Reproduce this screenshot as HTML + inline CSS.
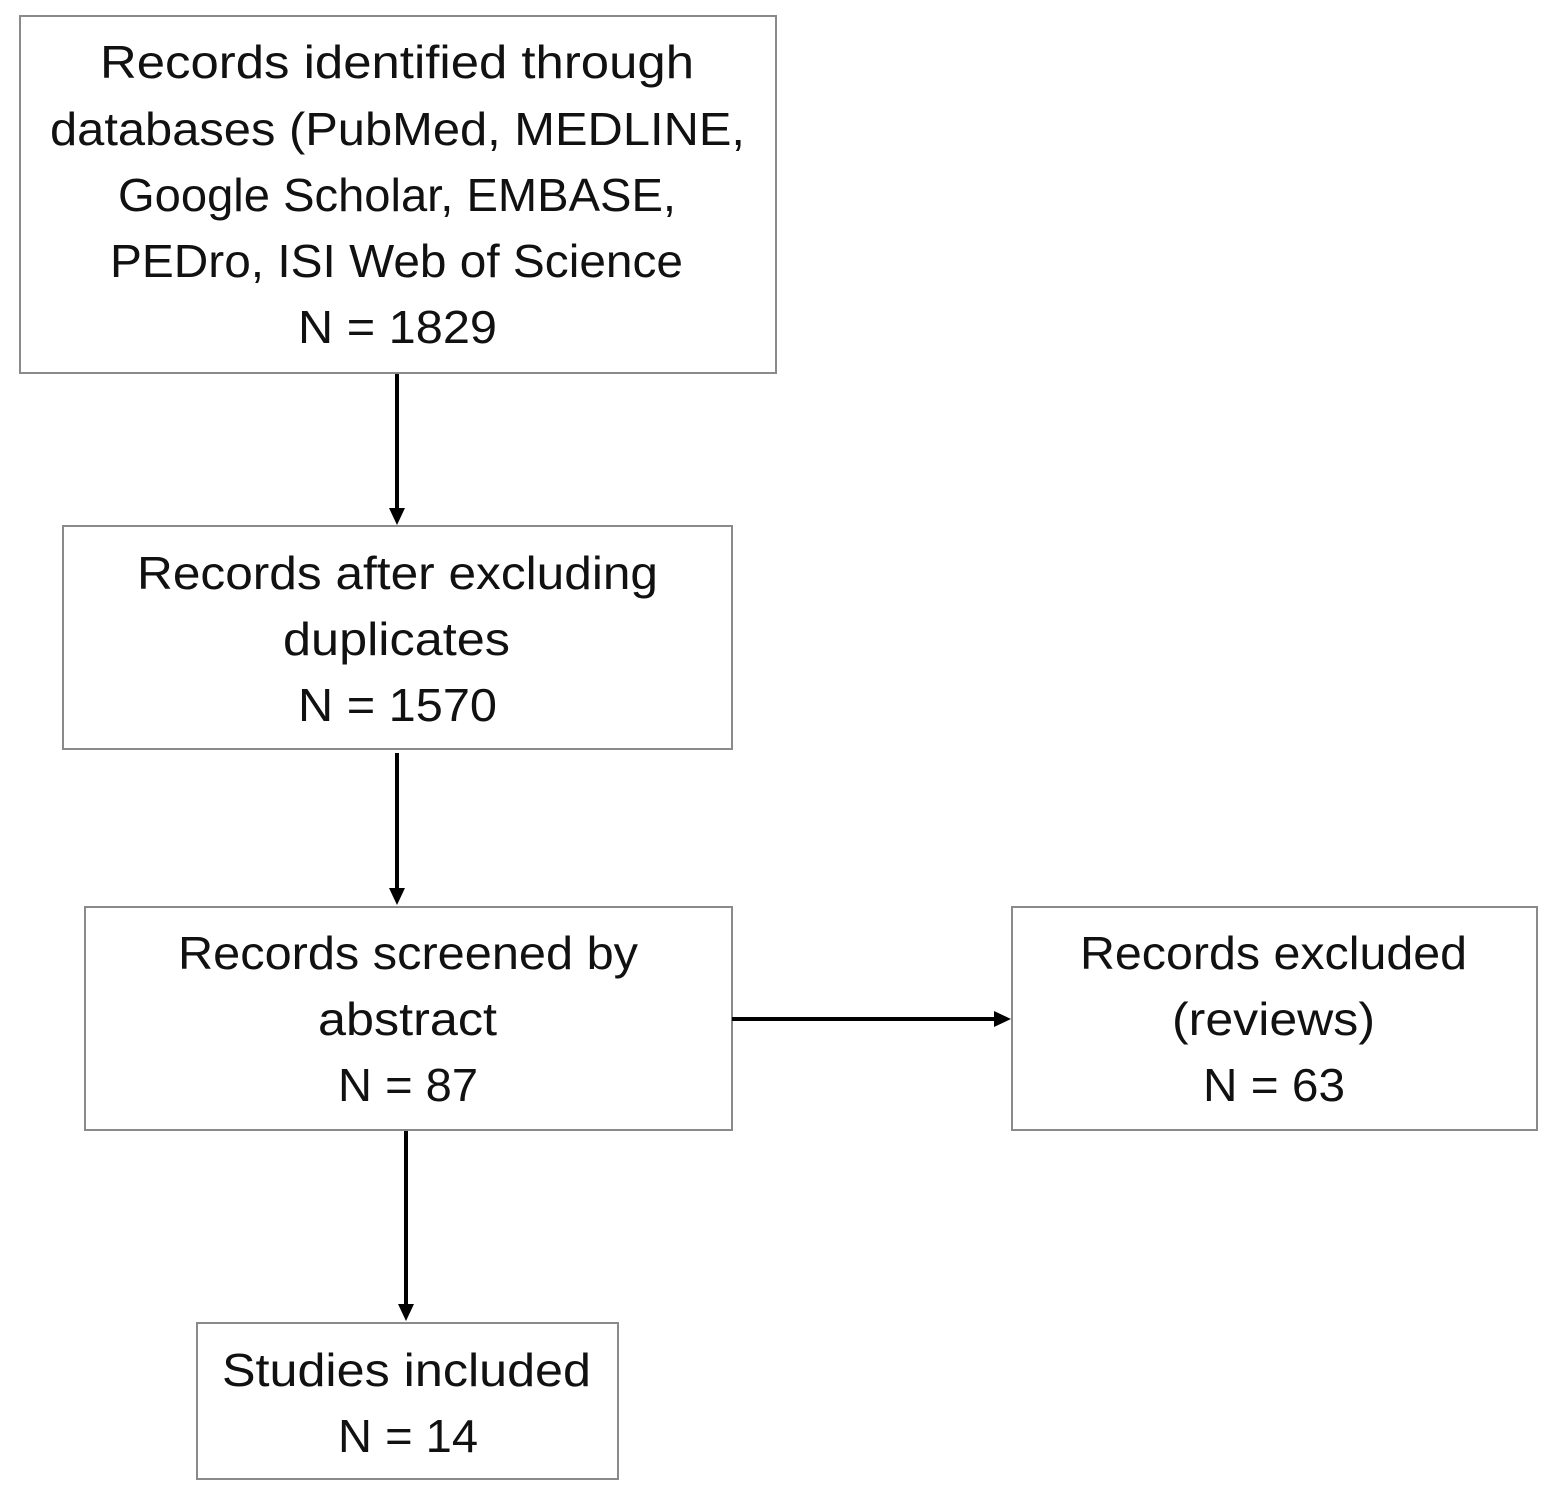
<!DOCTYPE html>
<html><head><meta charset="utf-8"><style>html,body{margin:0;padding:0;background:#fff}svg{display:block}</style></head>
<body>
<svg width="1559" height="1502" viewBox="0 0 1559 1502" xmlns="http://www.w3.org/2000/svg">
<g fill="#fff" stroke="#8a8a8a" stroke-width="2">
<rect x="20" y="16" width="756" height="357"/>
<rect x="63" y="526" width="669" height="223"/>
<rect x="85" y="907" width="647" height="223"/>
<rect x="1012" y="907" width="525" height="223"/>
<rect x="197" y="1323" width="421" height="156"/>
</g>
<g stroke="#000" stroke-width="4">
<line x1="397" y1="374" x2="397" y2="512"/>
<line x1="397" y1="753" x2="397" y2="892"/>
<line x1="732" y1="1019" x2="998" y2="1019"/>
<line x1="406" y1="1131" x2="406" y2="1308"/>
</g>
<g fill="#000">
<polygon points="389,508 405,508 397,525"/>
<polygon points="389,888 405,888 397,905"/>
<polygon points="994,1011 994,1027 1011,1019"/>
<polygon points="398,1304 414,1304 406,1321"/>
</g>
<g font-family="Liberation Sans, sans-serif" font-size="46" fill="#111" lengthAdjust="spacingAndGlyphs">
<text x="100" y="78" textLength="594" lengthAdjust="spacingAndGlyphs">Records identified through</text>
<text x="50" y="145" textLength="695" lengthAdjust="spacingAndGlyphs">databases (PubMed, MEDLINE,</text>
<text x="118" y="211" textLength="558" lengthAdjust="spacingAndGlyphs">Google Scholar, EMBASE,</text>
<text x="110" y="277" textLength="573" lengthAdjust="spacingAndGlyphs">PEDro, ISI Web of Science</text>
<text x="298" y="343" textLength="199" lengthAdjust="spacingAndGlyphs">N = 1829</text>
<text x="137" y="589" textLength="521" lengthAdjust="spacingAndGlyphs">Records after excluding</text>
<text x="283" y="655" textLength="227" lengthAdjust="spacingAndGlyphs">duplicates</text>
<text x="298" y="721" textLength="199" lengthAdjust="spacingAndGlyphs">N = 1570</text>
<text x="178" y="969" textLength="460" lengthAdjust="spacingAndGlyphs">Records screened by</text>
<text x="318" y="1035" textLength="179" lengthAdjust="spacingAndGlyphs">abstract</text>
<text x="338" y="1101" textLength="140" lengthAdjust="spacingAndGlyphs">N = 87</text>
<text x="1080" y="969" textLength="387" lengthAdjust="spacingAndGlyphs">Records excluded</text>
<text x="1172" y="1035" textLength="203" lengthAdjust="spacingAndGlyphs">(reviews)</text>
<text x="1203" y="1101" textLength="142" lengthAdjust="spacingAndGlyphs">N = 63</text>
<text x="222" y="1386" textLength="369" lengthAdjust="spacingAndGlyphs">Studies included</text>
<text x="338" y="1452" textLength="140" lengthAdjust="spacingAndGlyphs">N = 14</text>
</g>
</svg>
</body></html>
